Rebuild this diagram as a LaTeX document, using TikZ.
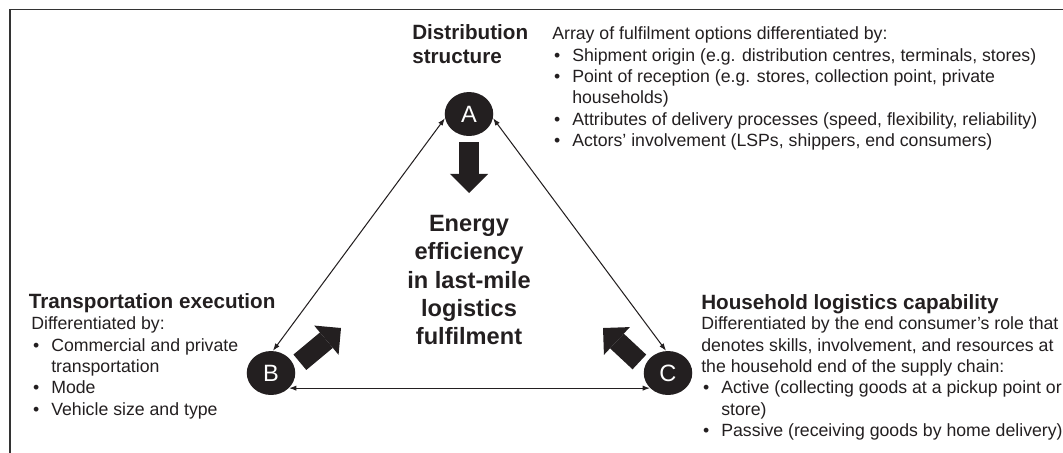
\documentclass[tikz,border=0pt]{standalone}
\usepackage{fontspec}
\setmainfont{Liberation Sans}
\usetikzlibrary{arrows.meta,shapes.geometric}
\definecolor{encre}{HTML}{231F20}
\newcommand{\puce}{\makebox[1.13em][l]{\hspace{0.1em}\textbullet}}
\newcommand{\retrait}{\hspace*{1.13em}}
\begin{document}
\begin{tikzpicture}[x=0.678pt,y=-0.678pt,color=encre]
    \tikzset{sommet/.style={ellipse, fill=encre, text=white, minimum width=32.9pt, minimum height=29.8pt, inner sep=0pt, font=\fontsize{16}{19}\selectfont}}
    \tikzset{arete/.style={line width=0.7pt, {Latex[length=5pt,width=3.6pt]}-{Latex[length=5pt,width=3.6pt]}}}
    \tikzset{fleche/.style={line width=13.6pt, -{Triangle[length=12.9pt,width=25.8pt,line width=0pt]}}}
    \tikzset{titre/.style={anchor=north west, inner sep=0pt, align=left, font=\bfseries\fontsize{14}{16.3}\selectfont}}
    \tikzset{texte/.style={anchor=north west, inner sep=0pt, align=left, font=\fontsize{12}{14.5}\selectfont}}
    \useasboundingbox (0,0) rectangle (1063,452);
    \draw[line width=0.9pt, black!80] (10,9.5) rectangle (1090,480);
    \node[sommet] (A) at (469,114) {A};
    \node[sommet] (B) at (271,373) {B};
    \node[sommet] (C) at (668,373) {C};
    \node[align=center, inner sep=0pt, font=\bfseries\fontsize{16}{19.2}\selectfont] (E) at (469,280) {Energy\\efficiency\\in last-mile\\logistics\\fulfilment};
    \node[titre] (DS) at (412,24.5) {Distribution\\structure};
    \node[texte] (DSt) at (552,26.5) {Array of fulfilment options differentiated by:\\
      \puce Shipment origin (e.g. distribution centres, terminals, stores)\\
      \puce Point of reception (e.g. stores, collection point, private\\
      \retrait households)\\
      \puce Attributes of delivery processes (speed, flexibility, reliability)\\
      \puce Actors’ involvement (LSPs, shippers, end consumers)};
    \node[titre] (TE) at (28.5,293.5) {Transportation execution};
    \node[texte] (TEt) at (31,316.5) {Differentiated by:\\
      \puce Commercial and private\\
      \retrait transportation\\
      \puce Mode\\
      \puce Vehicle size and type};
    \node[titre] (HL) at (701,294.5) {Household logistics capability};
    \node[texte] (HLt) at (701,316.5) {Differentiated by the end consumer’s role that\\
      denotes skills, involvement, and resources at\\
      the household end of the supply chain:\\
      \puce Active (collecting goods at a pickup point or\\
      \retrait store)\\
      \puce Passive (receiving goods by home delivery)};
    \coordinate (aTip) at (469,193);
    \coordinate (bTip) at (341,328);
    \coordinate (cTip) at (603,328);
    \draw[arete] (A.190) -- (B.85);
    \draw[arete] (A.-10) -- (C.95);
    \draw[arete] (B.-40) -- (C.220);
    \draw[fleche, shorten <=4pt] (A) -- (aTip);
    \draw[fleche, shorten <=4.7pt] (B.15) -- (bTip);
    \draw[fleche, shorten <=4.7pt] (C.165) -- (cTip);
\end{tikzpicture}
\end{document}
